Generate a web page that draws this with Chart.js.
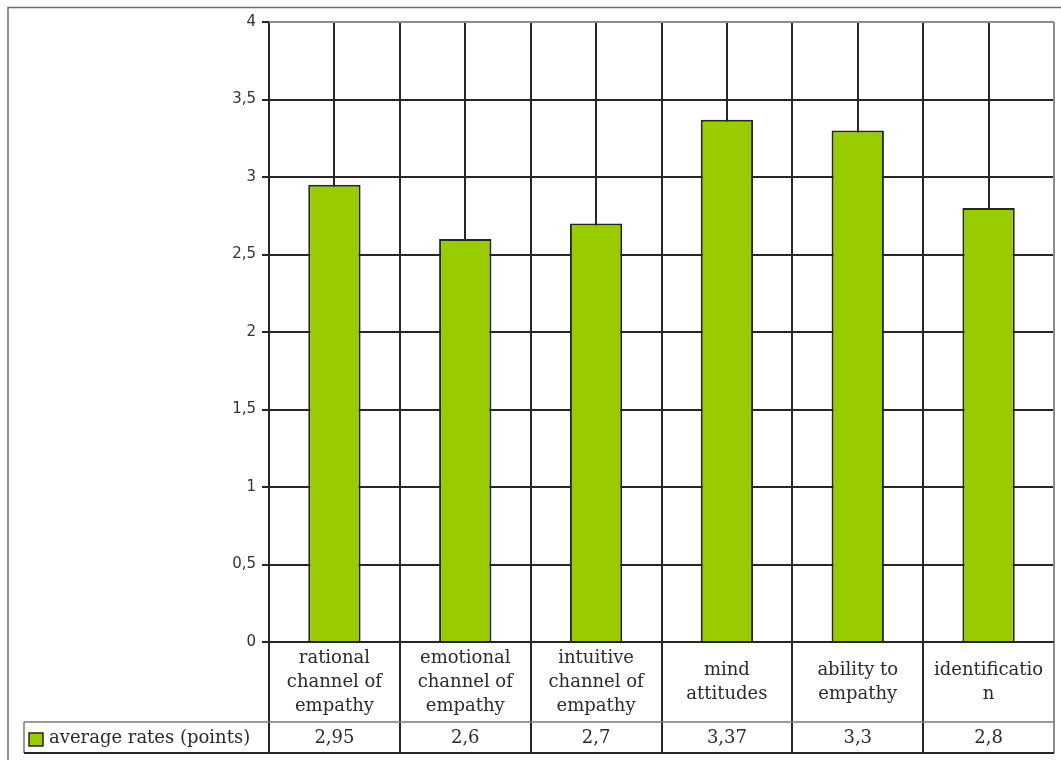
<!DOCTYPE html>
<html>
<head>
<meta charset="utf-8">
<script src="https://cdn.jsdelivr.net/npm/chart.js@4.4.1/dist/chart.umd.min.js"></script>
<style>
  html, body { margin: 0; padding: 0; background: #fff; }
  #c { display: block; }
</style>
</head>
<body>
<canvas id="c" width="1061" height="760"></canvas>
<script>
const categories = [
  ['rational', 'channel of', 'empathy'],
  ['emotional', 'channel of', 'empathy'],
  ['intuitive', 'channel of', 'empathy'],
  ['mind', 'attitudes'],
  ['ability to', 'empathy'],
  ['identificatio', 'n']
];
const values = [2.95, 2.6, 2.7, 3.37, 3.3, 2.8];
const valueLabels = ['2,95', '2,6', '2,7', '3,37', '3,3', '2,8'];
const seriesName = 'average rates (points)';
const yMin = 0, yMax = 4, yStep = 0.5;

const BAR = '#99cc00';
const DARK = '#262626';
const GRAY = '#8c8c8c';
const SERIF = '"DejaVu Serif", serif';

const tablePlugin = {
  id: 'tablePlugin',
  beforeDraw(chart) {
    const ctx = chart.ctx;
    ctx.save();
    ctx.fillStyle = '#fff';
    ctx.fillRect(0, 0, chart.width, chart.height);
    ctx.strokeStyle = '#6e6e6e';
    ctx.lineWidth = 1.5;
    ctx.strokeRect(8, 7.5, 1200, 900);
    ctx.restore();
  },
  beforeDatasetsDraw(chart) {
    const ctx = chart.ctx, x = chart.scales.x, a = chart.chartArea;
    const n = categories.length;
    ctx.save();
    ctx.lineWidth = 2;
    ctx.strokeStyle = DARK;
    for (let i = 0; i < n; i++) {
      const px = Math.round(x.getPixelForValue(i));
      ctx.beginPath(); ctx.moveTo(px, a.top); ctx.lineTo(px, a.bottom); ctx.stroke();
    }
    ctx.restore();
  },
  afterDraw(chart) {
    const ctx = chart.ctx, x = chart.scales.x, a = chart.chartArea;
    const n = categories.length;
    const half = (x.getPixelForValue(1) - x.getPixelForValue(0)) / 2;
    const rowTop = a.bottom, rowMid = 722, rowBot = 753;
    const legendLeft = 24;
    ctx.save();
    for (let i = 0; i <= n; i++) {
      const px = Math.round(i < n ? x.getPixelForValue(i) - half : x.getPixelForValue(n - 1) + half);
      ctx.beginPath();
      if (i === n) {
        ctx.strokeStyle = GRAY; ctx.lineWidth = 2;
        ctx.moveTo(px, a.top); ctx.lineTo(px, rowBot);
      } else {
        ctx.strokeStyle = DARK; ctx.lineWidth = 2;
        ctx.moveTo(px, i === 0 ? a.bottom : a.top); ctx.lineTo(px, rowBot);
      }
      ctx.stroke();
    }
    ctx.strokeStyle = GRAY; ctx.lineWidth = 2;
    ctx.beginPath(); ctx.moveTo(a.left, a.top); ctx.lineTo(a.right, a.top); ctx.stroke();
    ctx.strokeStyle = '#7a7a7a'; ctx.lineWidth = 1.5;
    ctx.beginPath(); ctx.moveTo(legendLeft, rowMid); ctx.lineTo(a.right, rowMid); ctx.stroke();
    ctx.beginPath(); ctx.moveTo(legendLeft, rowMid); ctx.lineTo(legendLeft, rowBot); ctx.stroke();
    ctx.strokeStyle = DARK; ctx.lineWidth = 2;
    ctx.beginPath(); ctx.moveTo(legendLeft, rowBot); ctx.lineTo(a.right, rowBot); ctx.stroke();
    ctx.beginPath(); ctx.moveTo(a.left - 7, a.bottom); ctx.lineTo(a.right, a.bottom); ctx.stroke();

    ctx.fillStyle = '#2b2b2b';
    ctx.font = '18px ' + SERIF;
    ctx.textAlign = 'center';
    ctx.textBaseline = 'middle';
    const cellMid = (rowTop + rowMid) / 2;
    categories.forEach((lines, i) => {
      const cx = x.getPixelForValue(i);
      const start = cellMid - (lines.length - 1) * 12;
      lines.forEach((t, k) => ctx.fillText(t, cx, start + k * 24));
    });
    const valMid = (rowMid + rowBot) / 2 + 1;
    valueLabels.forEach((t, i) => ctx.fillText(t, x.getPixelForValue(i), valMid));
    ctx.fillStyle = BAR;
    ctx.fillRect(29, 733, 14, 13);
    ctx.strokeStyle = DARK; ctx.lineWidth = 1.5;
    ctx.strokeRect(29, 733, 14, 13);
    ctx.fillStyle = '#2b2b2b';
    ctx.textAlign = 'left';
    ctx.fillText(seriesName, 49, valMid);
    ctx.restore();
  }
};

new Chart(document.getElementById('c'), {
  type: 'bar',
  data: {
    labels: categories.map(l => l.join(' ')),
    datasets: [{
      label: seriesName,
      data: values,
      backgroundColor: BAR,
      borderColor: DARK,
      borderWidth: 2,
      barPercentage: 0.4,
      categoryPercentage: 1.0
    }]
  },
  options: {
    responsive: false,
    animation: false,
    devicePixelRatio: 1,
    layout: { padding: { left: 0, right: 7, top: 22, bottom: 0 } },
    plugins: {
      legend: { display: false },
      tooltip: { enabled: false }
    },
    scales: {
      x: {
        offset: true,
        grid: { display: false },
        border: { display: false },
        ticks: { display: false },
        afterFit(s) { s.height = 118; }
      },
      y: {
        min: yMin, max: yMax,
        ticks: {
          stepSize: yStep,
          color: '#333',
          font: { family: '"DejaVu Sans", sans-serif', size: 15 },
          padding: 6,
          callback: v => String(v).replace('.', ',')
        },
        grid: {
          color: DARK,
          lineWidth: 2,
          tickLength: 7,
          tickColor: DARK,
          drawOnChartArea: true
        },
        border: { color: DARK, width: 2 },
        afterFit(s) { s.width = 269; }
      }
    }
  },
  plugins: [tablePlugin]
});
</script>
</body>
</html>
